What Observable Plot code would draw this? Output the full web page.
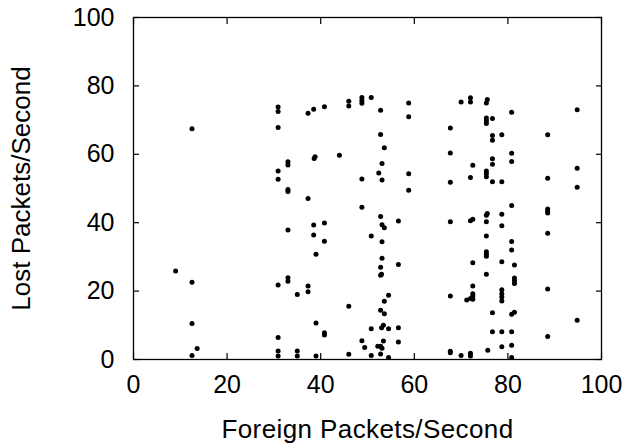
<!DOCTYPE html>
<html>
<head>
<meta charset="utf-8">
<script src="https://cdn.jsdelivr.net/npm/d3@7"></script>
<script src="https://cdn.jsdelivr.net/npm/@observablehq/plot@0.6"></script>
<style>
  html, body { margin: 0; padding: 0; background: white; }
  #chart svg [aria-label="x-axis label"] text { letter-spacing: 0.4px; font-size: 26px; }
  #chart svg [aria-label="y-axis label"] text { font-size: 26px; }
</style>
</head>
<body>
<div id="chart"></div>
<script>
const xTicks = [0, 20, 40, 60, 80, 100];
const yTicks = [0, 20, 40, 60, 80, 100];

const foreignPackets = [
  9.0, 12.5, 12.5, 12.5, 12.5, 13.6,
  30.9, 30.9, 30.9, 30.9, 30.9, 30.9, 30.9, 30.9, 30.9,
  33.0, 33.0, 33.0, 33.0, 33.0, 33.0, 33.0,
  35.0, 35.0, 35.0,
  37.3, 37.3, 37.3, 37.3,
  38.5, 38.6, 38.8, 38.5, 38.5, 39.0, 39.0, 39.0,
  40.8, 40.8, 40.8, 40.8, 40.8,
  44.0,
  46.0, 46.0, 46.0, 46.0,
  48.8, 48.8, 48.8, 48.8, 48.8, 48.8, 49.4,
  50.8, 50.8, 50.8, 50.8,
  52.8, 52.8, 52.4, 52.8, 52.8, 52.8, 53.0, 52.8, 52.8, 52.2, 52.8, 53.1,
  53.1, 53.1, 53.1, 53.6, 53.1, 53.1, 53.4, 53.4, 53.0, 53.6, 53.6, 53.6,
  54.5, 54.5, 54.5,
  56.6, 56.6, 56.6, 56.6,
  58.8, 58.8, 58.8, 58.8,
  67.7, 67.7, 67.7, 67.7, 67.7, 67.7, 67.7,
  70.0, 70.0, 71.2,
  72.0, 72.0, 72.0, 72.0, 72.0, 72.0, 72.0,
  72.5, 72.5, 72.5, 72.5, 72.5, 72.5, 72.5,
  75.6, 75.4, 75.4, 75.4, 75.4, 75.4, 75.4, 75.4, 75.6, 75.4, 75.4, 75.4, 75.4, 75.4, 75.4, 75.4, 75.7,
  76.7, 76.7, 76.7, 76.7, 76.7, 76.7, 76.7, 76.7,
  78.7, 78.7, 78.7, 78.7, 78.7, 78.7, 78.7, 78.7, 78.7, 78.7, 78.7,
  80.8, 80.8, 80.8, 80.8, 80.8, 80.8, 80.8, 81.4, 80.8, 80.8, 80.8,
  81.4, 81.4, 81.4, 81.4,
  88.5, 88.5, 88.5, 88.5, 88.5, 88.5, 88.5, 88.5,
  94.8, 94.8, 94.8, 94.8
];

const lostPackets = [
  25.9, 67.5, 22.6, 10.5, 1.2, 3.2,
  73.8, 72.5, 67.8, 55.1, 52.7, 21.8, 6.4, 2.5, 1.0,
  57.8, 56.9, 49.7, 49.1, 37.9, 23.9, 22.9,
  19.0, 2.5, 1.0,
  72.0, 47.1, 21.5, 19.8,
  73.2, 58.8, 59.3, 39.3, 36.4, 30.8, 10.7, 1.0,
  73.9, 39.9, 34.6, 7.8, 7.2,
  59.7,
  75.5, 74.1, 15.6, 1.5,
  76.6, 75.7, 74.9, 52.8, 44.5, 5.5, 3.5,
  76.6, 36.1, 9.0, 1.2,
  72.9, 65.8, 54.5, 41.8, 27.0, 24.6, 24.9, 14.4, 3.9, 3.9, 1.6, 3.3,
  57.3, 52.5, 39.4, 38.5, 34.4, 29.6, 5.4, 10.0, 9.3, 17.0, 13.4, 61.9,
  18.8, 9.0, 0.6,
  40.5, 27.8, 9.3, 5.1,
  75.0, 71.0, 54.3, 49.5,
  67.7, 60.4, 51.8, 40.3, 18.6, 2.4, 2.0,
  75.3, 1.2, 17.4,
  76.5, 75.3, 53.2, 40.6, 1.8, 1.0, 17.8,
  56.8, 41.0, 28.3, 21.5, 19.2, 18.6, 17.6,
  76.0, 75.0, 70.6, 69.8, 69.0, 55.1, 54.4, 53.4, 42.7, 42.2, 40.3, 36.1, 31.5, 30.8, 30.2, 24.9, 2.7,
  70.5, 65.5, 64.1, 58.7, 57.1, 52.0, 13.7, 8.1,
  65.7, 52.0, 42.5, 39.1, 28.6, 20.4, 19.2, 18.3, 17.1, 8.1, 3.7,
  72.3, 60.3, 57.9, 45.0, 34.5, 32.0, 13.2, 13.8, 8.1, 4.2, 0.6,
  27.6, 23.8, 23.0, 22.2,
  65.7, 53.0, 44.0, 43.4, 42.8, 36.9, 20.6, 6.7,
  73.0, 55.9, 50.4, 11.5
];

const points = foreignPackets.map((x, i) => ({x, y: lostPackets[i]}));

const chart = Plot.plot({
  width: 629,
  height: 445,
  marginLeft: 133,
  marginRight: 28,
  marginTop: 17,
  marginBottom: 86,
  x: {domain: [0, 100]},
  y: {domain: [0, 100]},
  style: {
    fontFamily: "'Liberation Sans', Arial, Helvetica, sans-serif",
    fontSize: "25px",
    color: "black",
    background: "white"
  },
  marks: [
    Plot.axisX(xTicks, {anchor: "bottom", tickSize: 0, tickPadding: 16, fontSize: 25,
      label: "Foreign Packets/Second", labelAnchor: "center", labelOffset: 78, labelArrow: "none"}),
    Plot.axisX(xTicks, {anchor: "bottom", tickSize: -6, text: null, label: null, strokeWidth: 1.2}),
    Plot.axisX(xTicks, {anchor: "top", tickSize: -6, text: null, label: null, strokeWidth: 1.2}),
    Plot.axisY(yTicks, {anchor: "left", tickSize: 0, tickPadding: 19, fontSize: 25,
      label: "Lost Packets/Second", labelAnchor: "center", labelOffset: 122, labelArrow: "none"}),
    Plot.axisY(yTicks, {anchor: "left", tickSize: -6, text: null, label: null, strokeWidth: 1.2}),
    Plot.axisY(yTicks, {anchor: "right", tickSize: -6, text: null, label: null, strokeWidth: 1.2}),
    Plot.frame({stroke: "black", strokeWidth: 1.3}),
    Plot.dot(points, {x: "x", y: "y", r: 2.5, fill: "black", stroke: null})
  ]
});
document.getElementById("chart").appendChild(chart);
</script>
</body>
</html>
